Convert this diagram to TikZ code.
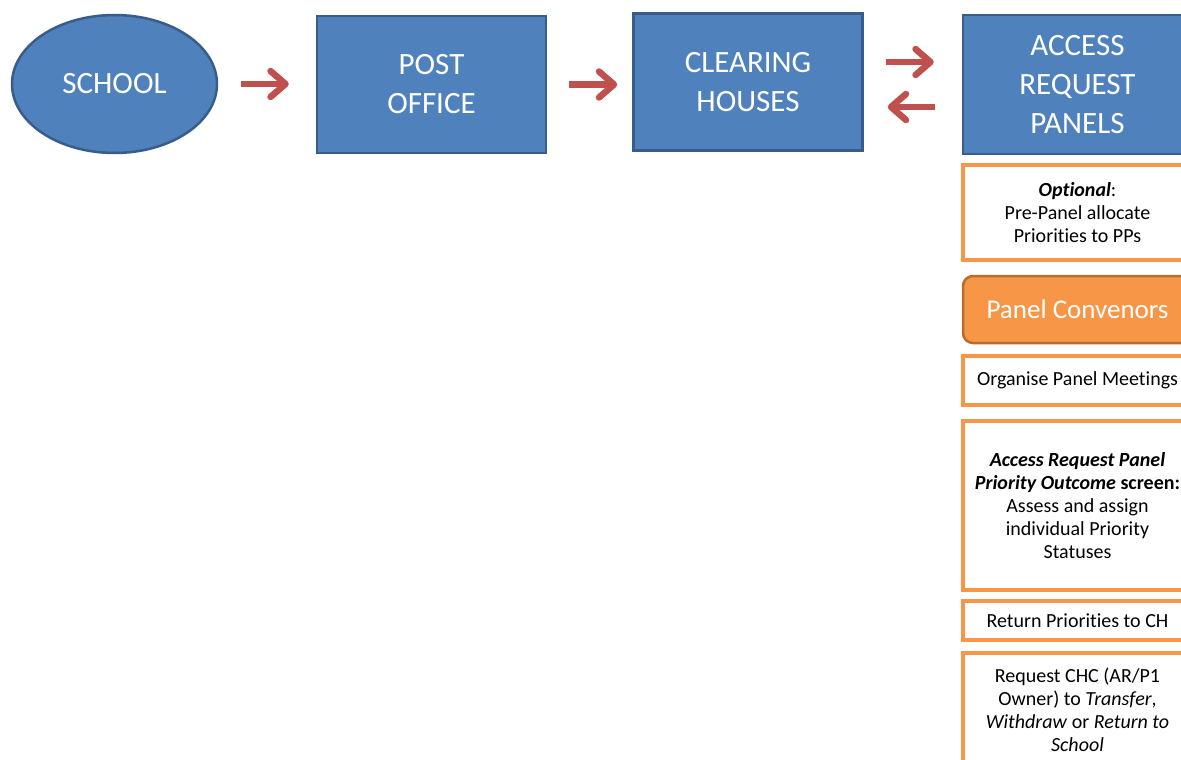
\documentclass[tikz,border=0pt]{standalone}
\usepackage{fontspec}
\setmainfont{Carlito}[Ligatures=NoCommon]
\usetikzlibrary{arrows.meta,shapes.geometric}
\definecolor{boxblue}{HTML}{4F81BD}
\definecolor{boxline}{HTML}{385D8A}
\definecolor{arrowred}{HTML}{C0504D}
\definecolor{panelorange}{HTML}{F79646}
\definecolor{panelline}{HTML}{B66D31}

\begin{document}
\begin{tikzpicture}[x=1pt, y=-1pt,
  bluebox/.style={draw=boxline, fill=boxblue, line width=2.5pt, text=white, minimum width=229pt, minimum height=137pt, inner sep=0pt, align=center, font=\fontsize{31}{39}\selectfont},
  convbox/.style={draw=panelline, fill=panelorange, line width=2.5pt, rounded corners=10pt, text=white, minimum width=229pt, minimum height=67pt, inner sep=0pt, font=\fontsize{27}{32}\selectfont},
  notebox/.style={draw=panelorange, fill=white, line width=3.5pt, minimum width=229pt, inner sep=0pt, align=center, font=\fontsize{20}{23}\selectfont},
  redarrow/.style={draw=arrowred, line width=6.5pt, -{Straight Barb[length=15pt, width=26pt, round]}}]
  \useasboundingbox (0,0) rectangle (1181,760);
  \clip (0,0) rectangle (1181,760);
  \node[ellipse, draw=boxline, fill=boxblue, line width=2.5pt, minimum width=205pt, minimum height=138pt, text=white, font=\fontsize{31}{39}\selectfont] (school) at (114.5,84) {SCHOOL};
  \node[bluebox] (post) at (431.5,84.5) {POST\\OFFICE};
  \node[bluebox] (clearing) at (748,82) {CLEARING\\HOUSES};
  \node[bluebox, minimum height=139pt] (panels) at (1077.5,84.5) {ACCESS\\REQUEST\\PANELS};
  \node[notebox, minimum height=95pt] (optional) at (1077.5,212.5) {\textbf{\textit{Optional}}:\\Pre-Panel allocate\\Priorities to PPs};
  \node[convbox] (convenors) at (1077.5,309.5) {Panel Convenors};
  \node[notebox, minimum height=49pt] (meetings) at (1077.5,380.5) {Organise Panel Meetings};
  \node[notebox, minimum height=169pt] (outcome) at (1077.5,505.5) {\textbf{\textit{Access Request Panel}}\\\textbf{\textit{Priority Outcome} screen:}\\Assess and assign\\individual Priority\\Statuses};
  \node[notebox, minimum height=39pt] (return) at (1077.5,620.5) {Return Priorities to CH};
  \node[notebox, minimum height=113pt] (transfer) at (1077.5,709.5) {Request CHC (AR/P1\\Owner) to \textit{Transfer},\\\textit{Withdraw} or \textit{Return to}\\\textit{School}};
  \draw[redarrow, shorten <=23pt, shorten >=27pt] (school.east) -- (school.east -| post.west);
  \draw[redarrow, shorten <=22pt, shorten >=15pt] (post.east) -- (post.east -| clearing.west);
  \draw[redarrow, shorten <=22pt, shorten >=28pt] ([yshift=20pt]clearing.east) -- ([yshift=20pt]clearing.east -| panels.west);
  \draw[redarrow, shorten <=27pt, shorten >=24pt] ([yshift=-25pt]clearing.east -| panels.west) -- ([yshift=-25pt]clearing.east);
\end{tikzpicture}
\end{document}
